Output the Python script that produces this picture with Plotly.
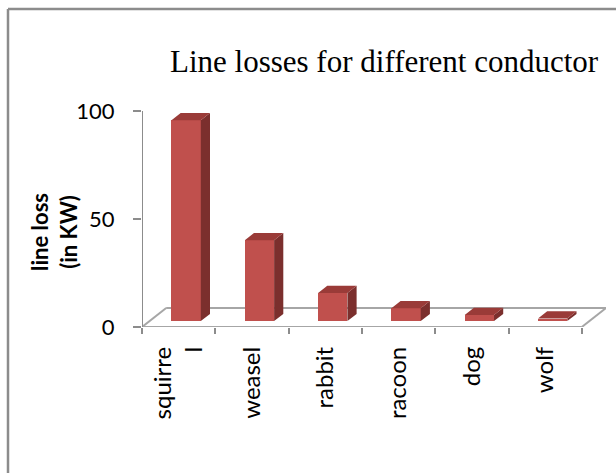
import plotly.graph_objects as go

# Line losses per conductor type (kW)
categories = ["squirrel", "weasel", "rabbit", "racoon", "dog", "wolf"]
tick_labels = ["squirre<br>l", "weasel", "rabbit", "racoon", "dog", "wolf"]
line_loss_kw = [93, 37.5, 13, 6, 2.8, 1.2]
y_tick_values = [0, 50, 100]

# pseudo-3D geometry (in axis units)
DEPTH_X = 0.33      # floor depth, horizontal component (category units)
DEPTH_Y = 8.8       # floor depth, vertical component (value units)
F0, F1 = 0.31, 0.69  # front / back of each column within the floor depth
BAR_W = 0.40

FRONT = "#C0504D"
SIDE = "#7B2F2D"
TOP = "#9A3B38"
GRID = "#A6A6A6"
AXIS = "#8C8C8C"

W, H = 616, 473
M_L, M_R, M_T, M_B = 142, 10, 102, 146
X_MIN, X_MAX = -0.5, len(categories) - 0.5 + DEPTH_X
Y_MAX = 104.2

plot_w = W - M_L - M_R
plot_h = H - M_T - M_B


def px_x(px):
    return (px - M_L) / plot_w


def px_y(py):
    return (H - M_B - py) / plot_h


idx = list(range(len(categories)))
base = F0 * DEPTH_Y
front_x = [i + F0 * DEPTH_X for i in idx]
ddx = (F1 - F0) * DEPTH_X
ddy = (F1 - F0) * DEPTH_Y

fig = go.Figure()

# front faces of the columns
fig.add_trace(go.Bar(
    x=front_x, y=line_loss_kw, base=base, width=BAR_W,
    marker=dict(color=FRONT, line=dict(width=0)),
    hoverinfo="skip", showlegend=False,
))

# side and top faces
side_x, side_y, top_x, top_y = [], [], [], []
for xc, v in zip(front_x, line_loss_kw):
    xl, xr = xc - BAR_W / 2, xc + BAR_W / 2
    top = base + v
    side_x += [xr, xr + ddx, xr + ddx, xr, xr, None]
    side_y += [base, base + ddy, top + ddy, top, base, None]
    top_x += [xl, xr, xr + ddx, xl + ddx, xl, None]
    top_y += [top, top, top + ddy, top + ddy, top, None]

fig.add_trace(go.Scatter(x=side_x, y=side_y, mode="lines", fill="toself",
                         fillcolor=SIDE, line=dict(width=0), hoverinfo="skip",
                         showlegend=False))
fig.add_trace(go.Scatter(x=top_x, y=top_y, mode="lines", fill="toself",
                         fillcolor=TOP, line=dict(width=0), hoverinfo="skip",
                         showlegend=False))

# floor outline and value axis line
x0, x1 = -0.5, len(categories) - 0.5
floor = [
    (x0, 0, x1, 0),
    (x1, 0, x1 + DEPTH_X, DEPTH_Y),
    (x1 + DEPTH_X, DEPTH_Y, x0 + DEPTH_X, DEPTH_Y),
    (x0 + DEPTH_X, DEPTH_Y, x0, 0),
]
for a, b, c, d in floor:
    fig.add_shape(type="line", xref="x", yref="y", x0=a, y0=b, x1=c, y1=d,
                  line=dict(color=GRID, width=2), layer="below")
fig.add_shape(type="line", xref="x", yref="y", x0=x0, y0=0, x1=x0,
              y1=max(y_tick_values), line=dict(color=AXIS, width=2),
              layer="below")

# chart frame (top and left edges)
fig.add_shape(type="line", xref="paper", yref="paper",
              x0=px_x(8), y0=px_y(9), x1=px_x(W + 5), y1=px_y(9),
              line=dict(color=AXIS, width=2.5))
fig.add_shape(type="line", xref="paper", yref="paper",
              x0=px_x(8), y0=px_y(9), x1=px_x(8), y1=px_y(H + 5),
              line=dict(color=AXIS, width=2.5))

fig.add_annotation(
    text="Line losses for different conductor", xref="paper", yref="paper",
    x=px_x(384), y=px_y(62), xanchor="center", yanchor="middle",
    showarrow=False, font=dict(family="Liberation Serif", size=31, color="#000"),
)
fig.add_annotation(
    text="<b>line loss<br>(in KW)</b>", xref="paper", yref="paper",
    x=px_x(54), y=px_y(232), xanchor="center", yanchor="middle",
    textangle=-90, showarrow=False,
    font=dict(family="Lato", size=22, color="#000"),
)

fig.update_layout(
    width=W, height=H,
    margin=dict(l=M_L, r=M_R, t=M_T, b=M_B, pad=0),
    paper_bgcolor="white", plot_bgcolor="white",
    font=dict(family="Lato", size=22, color="#000"),
    bargap=0,
    xaxis=dict(
        range=[X_MIN, X_MAX], tickmode="array", tickvals=idx,
        ticktext=tick_labels, tickangle=-90, ticks="",
        ticklabelstandoff=14, showgrid=False, zeroline=False, showline=False,
        tickfont=dict(size=24),
        minor=dict(tickmode="array",
                   tickvals=[i - 0.5 for i in range(len(categories) + 1)],
                   ticks="outside", ticklen=6, tickwidth=2, tickcolor=AXIS,
                   showgrid=False),
        fixedrange=True,
    ),
    yaxis=dict(
        range=[0, Y_MAX], tickmode="array", tickvals=y_tick_values,
        ticks="outside", ticklen=8, tickwidth=2, tickcolor=AXIS,
        ticklabelstandoff=14, showgrid=False, zeroline=False, showline=False,
        fixedrange=True,
    ),
)

fig.write_html("out.html")
